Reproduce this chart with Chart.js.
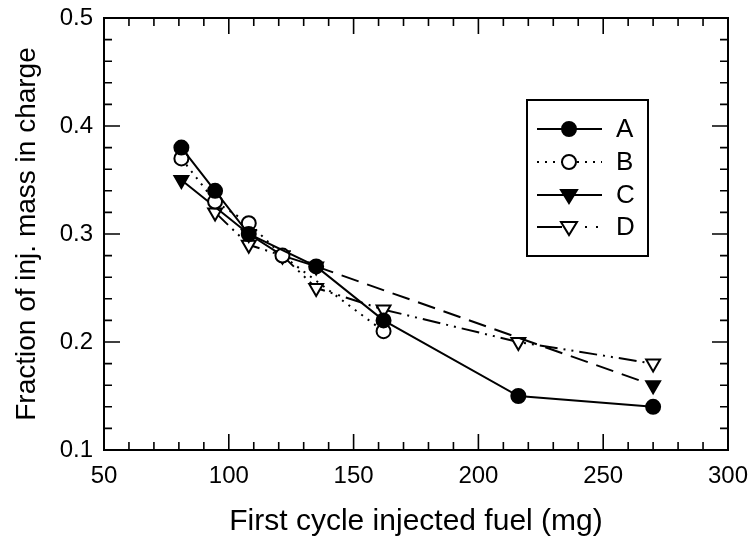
<!DOCTYPE html>
<html>
<head>
<meta charset="utf-8">
<script src="https://cdn.jsdelivr.net/npm/chart.js@4.4.1/dist/chart.umd.min.js"></script>
<style>
  html, body { margin: 0; padding: 0; background: #fff; }
  #wrap { width: 750px; height: 542px; }
</style>
</head>
<body>
<div id="wrap"><canvas id="fuelChart" width="750" height="542"></canvas></div>
<script>
// first cycle injected fuel (mg) and fraction of injected mass in charge
var aX = [81, 94.5, 108, 135, 162, 216, 270];
var aY = [0.38, 0.34, 0.30, 0.27, 0.22, 0.15, 0.14];
var bX = [81, 94.5, 108, 121.5, 162];
var bY = [0.37, 0.33, 0.31, 0.28, 0.21];
var cX = [81, 108, 121.5, 135, 270];
var cY = [0.35, 0.30, 0.28, 0.27, 0.16];
var dX = [94.5, 108, 121.5, 135, 162, 216, 270];
var dY = [0.32, 0.29, 0.28, 0.25, 0.23, 0.20, 0.18];
var seriesNames = ['A', 'B', 'C', 'D'];

var FONT = '"Liberation Sans", Arial, Helvetica, sans-serif';

function pts(xs, ys) {
    return xs.map(function(x, i) { return {x: x, y: ys[i]}; });
}

// inner ticks on all four sides plus the frame
var frameTicks = {
    id: 'frameTicks',
    beforeDatasetsDraw: function(chart) {
        var ctx = chart.ctx, a = chart.chartArea;
        var xs = chart.scales.x, ys = chart.scales.y;
        ctx.save();
        ctx.strokeStyle = '#000';
        ctx.lineWidth = 2;
        ctx.strokeRect(a.left, a.top, a.right - a.left, a.bottom - a.top);
        ctx.lineWidth = 1.6;
        ctx.beginPath();
        for (var v = 50; v <= 300; v += 10) {
            var px = xs.getPixelForValue(v);
            var len = (v % 50 === 0) ? 16 : 8;
            ctx.moveTo(px, a.bottom); ctx.lineTo(px, a.bottom - len);
            ctx.moveTo(px, a.top); ctx.lineTo(px, a.top + len);
        }
        for (var k = 0; k <= 20; k++) {
            var val = 0.1 + k * 0.02;
            var py = ys.getPixelForValue(val);
            var l2 = (k % 5 === 0) ? 16 : 8;
            ctx.moveTo(a.left, py); ctx.lineTo(a.left + l2, py);
            ctx.moveTo(a.right, py); ctx.lineTo(a.right - l2, py);
        }
        ctx.stroke();
        ctx.restore();
    }
};

function marker(ctx, style, x, y, filled) {
    ctx.beginPath();
    if (style === 'circle') {
        ctx.arc(x, y, 7, 0, Math.PI * 2);
    } else {
        ctx.moveTo(x - 8, y - 5);
        ctx.lineTo(x + 8, y - 5);
        ctx.lineTo(x, y + 8);
        ctx.closePath();
    }
    ctx.fillStyle = filled ? '#000' : '#fff';
    ctx.fill();
    ctx.lineWidth = 2;
    ctx.stroke();
}

// boxed legend inside the plot
var boxLegend = {
    id: 'boxLegend',
    afterDraw: function(chart) {
        var ctx = chart.ctx;
        var left = 527, top = 100, right = 648, bottom = 256;
        var rows = [129, 162, 195, 227];
        var dashes = [[], [2, 6], [], []];
        ctx.save();
        ctx.fillStyle = '#fff';
        ctx.fillRect(left, top, right - left, bottom - top);
        ctx.strokeStyle = '#000';
        ctx.lineWidth = 2;
        ctx.strokeRect(left, top, right - left, bottom - top);
        chart.data.datasets.forEach(function(ds, i) {
            var y = rows[i];
            ctx.strokeStyle = '#000';
            ctx.lineWidth = 2;
            if (i === 3) {
                ctx.setLineDash([]);
                ctx.beginPath(); ctx.moveTo(537, y); ctx.lineTo(562, y); ctx.stroke();
                ctx.fillStyle = '#000';
                ctx.fillRect(585, y - 1, 2, 2);
                ctx.fillRect(596, y - 1, 2, 2);
            } else {
                ctx.setLineDash(dashes[i]);
                ctx.beginPath(); ctx.moveTo(537, y); ctx.lineTo(602, y); ctx.stroke();
            }
            ctx.setLineDash([]);
            marker(ctx, ds.pointStyle, 569, y, ds.pointBackgroundColor === '#000');
            ctx.fillStyle = '#000';
            ctx.font = '26px ' + FONT;
            ctx.textBaseline = 'middle';
            ctx.textAlign = 'left';
            ctx.fillText(ds.label, 616, y + 1);
        });
        ctx.restore();
    }
};

var ctx = document.getElementById('fuelChart').getContext('2d');
var fuelChart = new Chart(ctx, {
    type: 'scatter',
    data: {
        datasets: [{
            label: seriesNames[0],
            data: pts(aX, aY),
            showLine: true,
            borderColor: '#000',
            borderWidth: 2,
            pointStyle: 'circle',
            pointRadius: 7,
            pointBackgroundColor: '#000',
            pointBorderColor: '#000'
        }, {
            label: seriesNames[1],
            data: pts(bX, bY),
            showLine: true,
            borderColor: '#000',
            borderWidth: 2,
            borderDash: [2, 6],
            pointStyle: 'circle',
            pointRadius: 7,
            pointBackgroundColor: '#fff',
            pointBorderColor: '#000',
            pointBorderWidth: 2
        }, {
            label: seriesNames[2],
            data: pts(cX, cY),
            showLine: true,
            borderColor: '#000',
            borderWidth: 2,
            segment: {
                borderDash: function(s) { return s.p0DataIndex >= 3 ? [18, 9] : undefined; }
            },
            pointStyle: 'triangle',
            pointRotation: 180,
            pointRadius: 8,
            pointBackgroundColor: '#000',
            pointBorderColor: '#000'
        }, {
            label: seriesNames[3],
            data: pts(dX, dY),
            showLine: true,
            borderColor: '#000',
            borderWidth: 2,
            borderDash: [18, 6, 2, 6, 2, 6],
            pointStyle: 'triangle',
            pointRotation: 180,
            pointRadius: 8,
            pointBackgroundColor: '#fff',
            pointBorderColor: '#000',
            pointBorderWidth: 2
        }]
    },
    options: {
        responsive: false,
        animation: false,
        layout: { padding: { top: 18, right: 22, left: 0, bottom: 0 } },
        plugins: {
            legend: { display: false },
            tooltip: { enabled: false }
        },
        scales: {
            x: {
                type: 'linear',
                min: 50,
                max: 300,
                grid: { display: false, drawTicks: false },
                border: { display: false },
                ticks: {
                    stepSize: 50,
                    padding: 12,
                    color: '#000',
                    font: { family: FONT, size: 24 }
                },
                title: {
                    display: true,
                    text: 'First cycle injected fuel (mg)',
                    color: '#000',
                    font: { family: FONT, size: 30 },
                    padding: { top: 0, bottom: 2 }
                },
                afterFit: function(scale) {
                    scale.height = 92;
                    scale.paddingLeft = 0;
                    scale.paddingRight = 0;
                }
            },
            y: {
                type: 'linear',
                min: 0.1,
                max: 0.5,
                grid: { display: false, drawTicks: false },
                border: { display: false },
                ticks: {
                    stepSize: 0.1,
                    padding: 11,
                    color: '#000',
                    font: { family: FONT, size: 24 },
                    callback: function(v) { return v.toFixed(1); }
                },
                title: {
                    display: true,
                    text: 'Fraction of inj. mass in charge',
                    color: '#000',
                    font: { family: FONT, size: 28 },
                    padding: { top: 10, bottom: 0 }
                },
                afterFit: function(scale) {
                    scale.width = 104;
                    scale.paddingTop = 0;
                    scale.paddingBottom = 0;
                }
            }
        }
    },
    plugins: [frameTicks, boxLegend]
});
</script>
</body>
</html>
